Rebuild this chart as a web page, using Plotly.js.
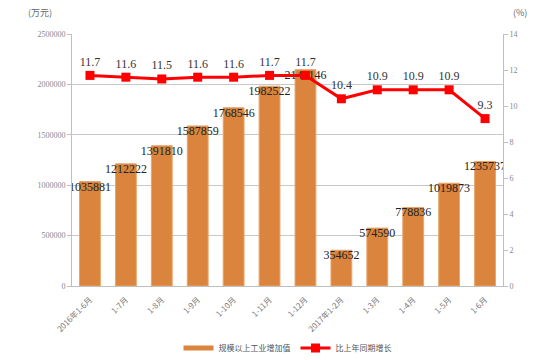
<!DOCTYPE html>
<html><head><meta charset="utf-8">
<script src="https://cdn.plot.ly/plotly-3.0.1.min.js"></script>
<style>html,body{margin:0;padding:0;background:#fff}#c{width:550px;height:360px}</style>
</head><body><div id="c"></div>
<script>
var categories = ["2016年1-6月","1-7月","1-8月","1-9月","1-10月","1-11月","1-12月","2017年1-2月","1-3月","1-4月","1-5月","1-6月"];
var addedValue = [1035881,1212222,1391810,1587859,1768546,1982522,2146146,354652,574590,778836,1019873,1235737];
var growth = [11.7,11.6,11.5,11.6,11.6,11.7,11.7,10.4,10.9,10.9,10.9,9.3];
var xs = categories.map(function(_, i){ return i; });

var serif = "Liberation Serif, DejaVu Serif, serif";
var cjk = "Noto Sans CJK SC, sans-serif";

var traces = [
  {type:'bar', x:xs, y:addedValue, name:'规模以上工业增加值', showlegend:false,
   marker:{color:'#DA843E', line:{color:'#E9A56A', width:1}}, hoverinfo:'y'},
  {type:'scatter', mode:'lines', x:[null], y:[null], name:'规模以上工业增加值',
   line:{color:'#DA843E', width:5}},
  {type:'scatter', mode:'text', x:xs, y:addedValue, text:addedValue.map(String),
   textposition:'bottom center', textfont:{family:serif, size:12, color:'#222'},
   showlegend:false, hoverinfo:'skip'},
  {type:'scatter', mode:'lines+markers+text', x:xs, y:growth, yaxis:'y2', name:'比上年同期增长',
   line:{color:'#FF0000', width:3}, marker:{symbol:'square', size:9, color:'#FF0000'},
   text:growth.map(function(v){return v.toFixed(1);}), textposition:'top center',
   textfont:{family:serif, size:12, color:'#333'}, cliponaxis:false}
];

var layout = {
  width:550, height:360, margin:{l:72, r:47, t:34, b:74},
  paper_bgcolor:'#fff', plot_bgcolor:'#fff',
  bargap:0.42, showlegend:true,
  font:{family:cjk, color:'#777', size:8},
  xaxis:{tickmode:'array', tickvals:xs, ticktext:categories, tickangle:-45, automargin:false,
    range:[-0.5, 11.5], showline:true, linecolor:'#BFBFBF', linewidth:1,
    showgrid:false, ticks:'outside', ticklen:5, tickcolor:'rgba(0,0,0,0)',
    tickfont:{family:cjk, size:8, color:'#777'}, fixedrange:true},
  yaxis:{range:[0,2500000], dtick:500000, showline:true, linecolor:'#BFBFBF', automargin:false,
    gridcolor:'#C8C8C8', gridwidth:1, ticks:'outside', ticklen:4, tickcolor:'#BFBFBF',
    tickformat:'d', tickfont:{family:serif, size:8, color:'#888'}, zeroline:false},
  yaxis2:{range:[0,14], dtick:2, overlaying:'y', side:'right', showline:true, automargin:false,
    linecolor:'#BFBFBF', showgrid:false, ticks:'outside', ticklen:4, tickcolor:'#BFBFBF',
    tickfont:{family:serif, size:8, color:'#888'}, zeroline:false},
  legend:{orientation:'h', x:0.5, xanchor:'center', yref:'container', y:0.033, yanchor:'middle',
    font:{family:cjk, size:8, color:'#555'}, itemwidth:30, bgcolor:'rgba(0,0,0,0)'},
  annotations:[
    {xref:'paper', yref:'paper', x:-0.075, y:1.085, xanchor:'center', yanchor:'middle',
     text:'(万元)', showarrow:false, font:{family:cjk, size:9, color:'#666'}},
    {xref:'paper', yref:'paper', x:1.04, y:1.085, xanchor:'center', yanchor:'middle',
     text:'(%)', showarrow:false, font:{family:cjk, size:9, color:'#666'}}
  ]
};
Plotly.newPlot('c', traces, layout, {displayModeBar:false, staticPlot:true});
</script></body></html>
